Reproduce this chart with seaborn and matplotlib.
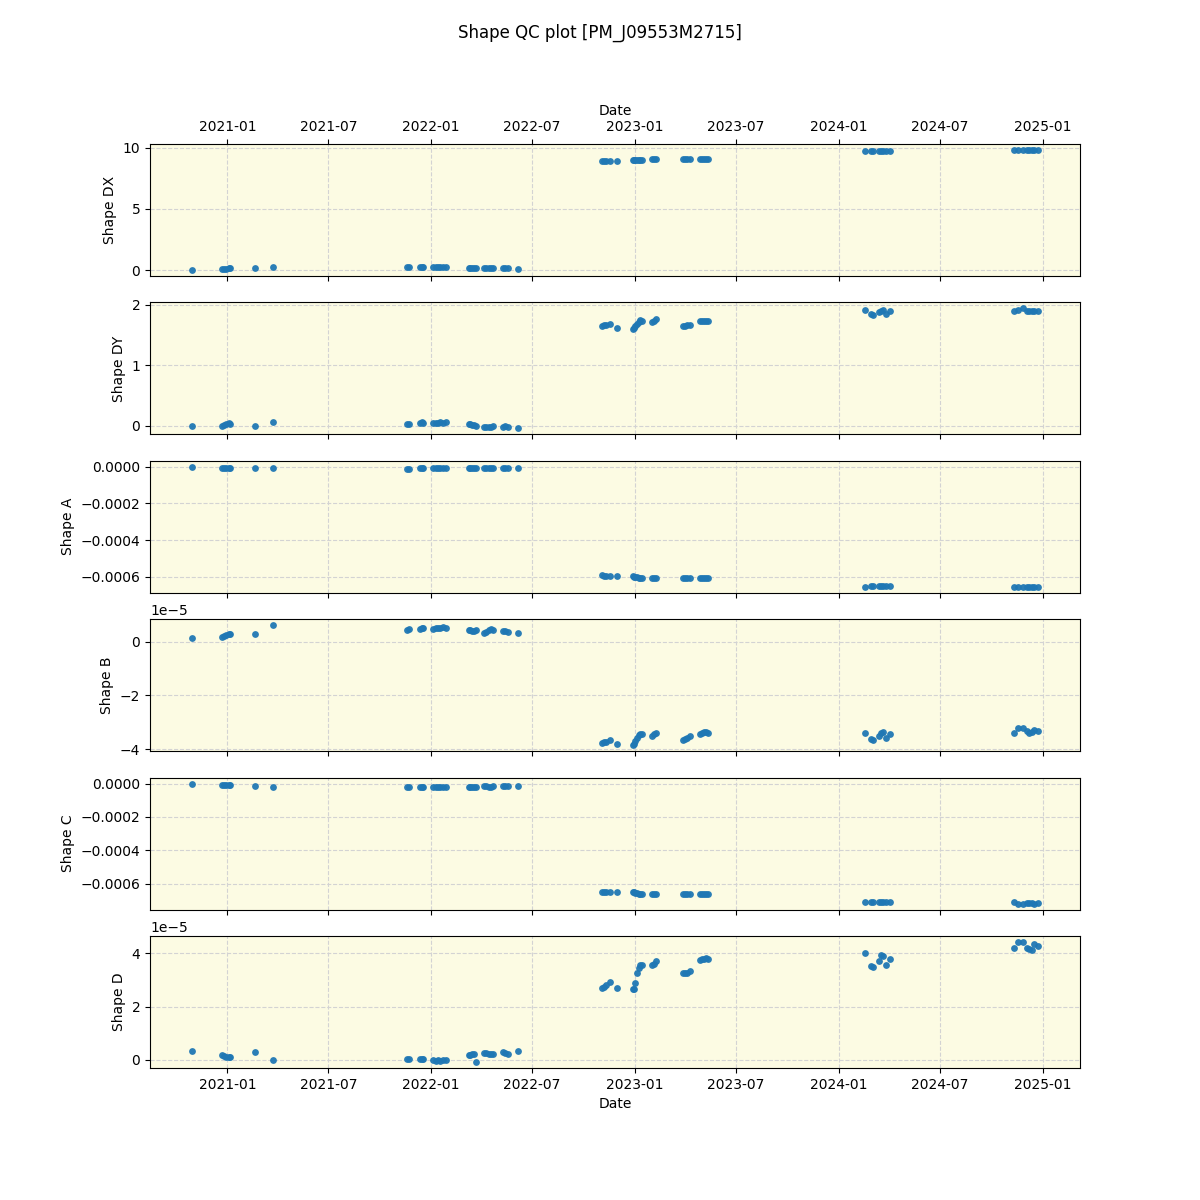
import numpy as np
import pandas as pd
import matplotlib
matplotlib.use("Agg")
import matplotlib.pyplot as plt
import matplotlib.dates as mdates
import seaborn as sns

# observation dates
dates = [
    "2020-10-30",
    "2020-12-22", "2020-12-26", "2020-12-30", "2021-01-03", "2021-01-06",
    "2021-02-20", "2021-03-24",
    "2021-11-18", "2021-11-22",
    "2021-12-12", "2021-12-15", "2021-12-18",
    "2022-01-05", "2022-01-09", "2022-01-13", "2022-01-17", "2022-01-22", "2022-01-27",
    "2022-03-09", "2022-03-12", "2022-03-15", "2022-03-18", "2022-03-22",
    "2022-04-06", "2022-04-10", "2022-04-14", "2022-04-18", "2022-04-22",
    "2022-05-10", "2022-05-14", "2022-05-19",
    "2022-06-05",
    "2022-11-03", "2022-11-07", "2022-11-10", "2022-11-18", "2022-11-30",
    "2022-12-28", "2022-12-30", "2023-01-02", "2023-01-05", "2023-01-08", "2023-01-11", "2023-01-14",
    "2023-02-01", "2023-02-05", "2023-02-08",
    "2023-03-28", "2023-04-01", "2023-04-05", "2023-04-10",
    "2023-04-27", "2023-05-01", "2023-05-05", "2023-05-09", "2023-05-13",
    "2024-02-17", "2024-02-28", "2024-03-02",
    "2024-03-14", "2024-03-17", "2024-03-20", "2024-03-26", "2024-04-02",
    "2024-11-10", "2024-11-18", "2024-11-27", "2024-12-04", "2024-12-07", "2024-12-13", "2024-12-16", "2024-12-23",
]

shape_dx = [
    0.0,
    0.05, 0.10, 0.12, 0.15, 0.15,
    0.15, 0.25,
    0.22, 0.25,
    0.22, 0.24, 0.22,
    0.22, 0.22, 0.23, 0.22, 0.22, 0.21,
    0.20, 0.18, 0.17, 0.15, 0.14,
    0.15, 0.14, 0.15, 0.15, 0.14,
    0.14, 0.14, 0.14,
    0.12,
    8.88, 8.88, 8.90, 8.90, 8.90,
    8.95, 8.95, 8.97, 8.98, 9.00, 9.00, 9.00,
    9.05, 9.05, 9.07,
    9.05, 9.05, 9.05, 9.05,
    9.05, 9.05, 9.05, 9.05, 9.05,
    9.70, 9.72, 9.70,
    9.70, 9.72, 9.72, 9.70, 9.72,
    9.80, 9.80, 9.80, 9.80, 9.80, 9.80, 9.80, 9.80,
]

shape_dy = [
    0.0,
    0.0, 0.01, 0.03, 0.05, 0.04,
    0.0, 0.065,
    0.03, 0.04,
    0.05, 0.06, 0.05,
    0.055, 0.05, 0.055, 0.06, 0.05, 0.06,
    0.04, 0.03, 0.02, 0.01, 0.0,
    -0.02, -0.015, -0.01, -0.01, 0.0,
    -0.01, -0.005, -0.01,
    -0.04,
    1.65, 1.66, 1.67, 1.69, 1.62,
    1.60, 1.62, 1.65, 1.68, 1.72, 1.75, 1.74,
    1.71, 1.73, 1.76,
    1.65, 1.65, 1.66, 1.67,
    1.74, 1.74, 1.74, 1.74, 1.74,
    1.92, 1.84, 1.83,
    1.88, 1.90, 1.92, 1.84, 1.89,
    1.89, 1.92, 1.94, 1.90, 1.89, 1.89, 1.90, 1.90,
]

shape_a = [
    0.0,
    -5e-6, -5e-6, -6e-6, -6e-6, -6e-6,
    -5e-6, -5e-6,
    -1.1e-5, -1e-5,
    -5e-6, -5e-6, -5e-6,
    -5e-6, -5e-6, -6e-6, -6e-6, -5e-6, -6e-6,
    -5e-6, -6e-6, -6e-6, -5e-6, -6e-6,
    -6e-6, -6e-6, -5e-6, -5e-6, -6e-6,
    -5e-6, -5e-6, -6e-6,
    -5e-6,
    -5.93e-4, -5.96e-4, -5.98e-4, -5.98e-4, -5.98e-4,
    -5.98e-4, -6.0e-4, -6.02e-4, -6.03e-4, -6.05e-4, -6.05e-4, -6.05e-4,
    -6.05e-4, -6.05e-4, -6.05e-4,
    -6.05e-4, -6.05e-4, -6.05e-4, -6.05e-4,
    -6.05e-4, -6.05e-4, -6.05e-4, -6.05e-4, -6.05e-4,
    -6.55e-4, -6.48e-4, -6.48e-4,
    -6.48e-4, -6.48e-4, -6.48e-4, -6.48e-4, -6.48e-4,
    -6.55e-4, -6.55e-4, -6.55e-4, -6.55e-4, -6.55e-4, -6.55e-4, -6.55e-4, -6.55e-4,
]

shape_b = [
    0.12e-5,
    0.17e-5, 0.20e-5, 0.25e-5, 0.30e-5, 0.28e-5,
    0.28e-5, 0.61e-5,
    0.42e-5, 0.46e-5,
    0.48e-5, 0.52e-5, 0.50e-5,
    0.48e-5, 0.50e-5, 0.52e-5, 0.50e-5, 0.53e-5, 0.52e-5,
    0.45e-5, 0.42e-5, 0.40e-5, 0.38e-5, 0.42e-5,
    0.32e-5, 0.36e-5, 0.42e-5, 0.46e-5, 0.45e-5,
    0.38e-5, 0.40e-5, 0.36e-5,
    0.31e-5,
    -3.76e-5, -3.74e-5, -3.72e-5, -3.66e-5, -3.82e-5,
    -3.85e-5, -3.80e-5, -3.70e-5, -3.60e-5, -3.48e-5, -3.42e-5, -3.44e-5,
    -3.50e-5, -3.45e-5, -3.40e-5,
    -3.64e-5, -3.62e-5, -3.60e-5, -3.52e-5,
    -3.42e-5, -3.38e-5, -3.37e-5, -3.36e-5, -3.38e-5,
    -3.38e-5, -3.62e-5, -3.65e-5,
    -3.50e-5, -3.38e-5, -3.36e-5, -3.58e-5, -3.42e-5,
    -3.38e-5, -3.22e-5, -3.22e-5, -3.32e-5, -3.38e-5, -3.35e-5, -3.27e-5, -3.32e-5,
]

shape_c = [
    0.0,
    -6e-6, -6e-6, -7e-6, -7e-6, -7e-6,
    -1.2e-5, -1.8e-5,
    -1.8e-5, -1.8e-5,
    -1.8e-5, -1.8e-5, -1.8e-5,
    -1.8e-5, -1.8e-5, -1.8e-5, -1.8e-5, -1.8e-5, -1.8e-5,
    -1.8e-5, -1.8e-5, -1.8e-5, -1.8e-5, -1.8e-5,
    -1.6e-5, -1.6e-5, -1.8e-5, -1.8e-5, -1.6e-5,
    -1.2e-5, -1.2e-5, -1.2e-5,
    -1.2e-5,
    -6.5e-4, -6.5e-4, -6.5e-4, -6.5e-4, -6.5e-4,
    -6.5e-4, -6.52e-4, -6.55e-4, -6.58e-4, -6.6e-4, -6.6e-4, -6.6e-4,
    -6.6e-4, -6.6e-4, -6.6e-4,
    -6.6e-4, -6.6e-4, -6.6e-4, -6.6e-4,
    -6.6e-4, -6.6e-4, -6.6e-4, -6.6e-4, -6.6e-4,
    -7.12e-4, -7.12e-4, -7.12e-4,
    -7.12e-4, -7.12e-4, -7.08e-4, -7.12e-4, -7.12e-4,
    -7.12e-4, -7.2e-4, -7.2e-4, -7.16e-4, -7.14e-4, -7.14e-4, -7.2e-4, -7.14e-4,
]

shape_d = [
    0.32e-5,
    0.17e-5, 0.14e-5, 0.11e-5, 0.09e-5, 0.10e-5,
    0.29e-5, -0.01e-5,
    0.03e-5, 0.02e-5,
    0.03e-5, 0.02e-5, 0.02e-5,
    -0.02e-5, -0.04e-5, -0.03e-5, -0.04e-5, -0.02e-5, -0.03e-5,
    0.16e-5, 0.18e-5, 0.20e-5, 0.22e-5, -0.09e-5,
    0.25e-5, 0.24e-5, 0.22e-5, 0.21e-5, 0.20e-5,
    0.27e-5, 0.24e-5, 0.22e-5,
    0.32e-5,
    2.70e-5, 2.75e-5, 2.80e-5, 2.92e-5, 2.68e-5,
    2.65e-5, 2.65e-5, 2.90e-5, 3.25e-5, 3.45e-5, 3.55e-5, 3.58e-5,
    3.55e-5, 3.62e-5, 3.70e-5,
    3.25e-5, 3.25e-5, 3.26e-5, 3.32e-5,
    3.75e-5, 3.78e-5, 3.80e-5, 3.82e-5, 3.80e-5,
    4.00e-5, 3.52e-5, 3.48e-5,
    3.70e-5, 3.95e-5, 3.90e-5, 3.56e-5, 3.80e-5,
    4.22e-5, 4.43e-5, 4.43e-5, 4.20e-5, 4.15e-5, 4.13e-5, 4.35e-5, 4.27e-5,
]

df = pd.DataFrame({
    "Date": pd.to_datetime(dates),
    "Shape DX": shape_dx,
    "Shape DY": shape_dy,
    "Shape A": shape_a,
    "Shape B": shape_b,
    "Shape C": shape_c,
    "Shape D": shape_d,
})

columns = ["Shape DX", "Shape DY", "Shape A", "Shape B", "Shape C", "Shape D"]

fig, axes = plt.subplots(6, 1, figsize=(12, 12), sharex=True)
fig.suptitle("Shape QC plot [PM_J09553M2715]")

for ax, col in zip(axes, columns):
    sns.scatterplot(data=df, x="Date", y=col, ax=ax, s=24, color="#1f77b4",
                    linewidth=0, alpha=0.95)
    ax.set_facecolor("#FCFBE3")
    ax.grid(True, linestyle="--", color="lightgray")
    ax.set_axisbelow(True)
    ax.set_ylabel(col)

# date ticks repeated on top of the first panel
axes[0].xaxis.set_major_formatter(mdates.DateFormatter("%Y-%m"))
axes[0].tick_params(axis="x", top=True, labeltop=True)
axes[0].xaxis.set_label_position("top")
axes[0].set_xlabel("Date")
axes[0].xaxis.label.set_visible(True)
axes[-1].set_xlabel("Date")
axes[-1].xaxis.label.set_visible(True)

plt.savefig("out.png", dpi=100)
